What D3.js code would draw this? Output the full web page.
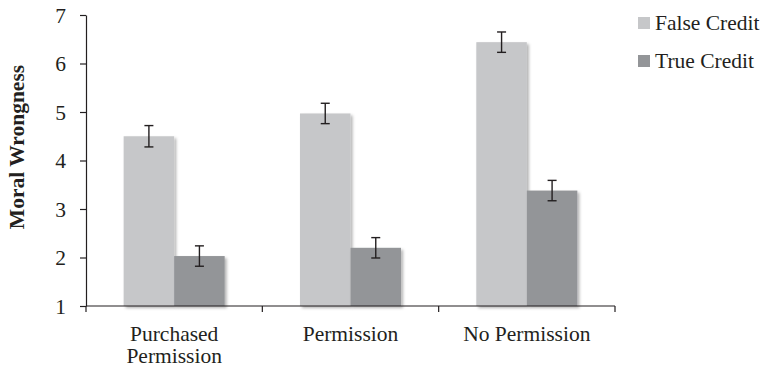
<!DOCTYPE html>
<html>
<head>
<meta charset="utf-8">
<script src="https://cdn.jsdelivr.net/npm/d3@7"></script>
<style>
  svg text, svg tspan { font-family: "Liberation Serif", "Times New Roman", Times, serif !important; }
</style>
</head>
<body style="margin:0">
<svg id="chart" width="762" height="370"></svg>
<script>
// Mean moral-wrongness ratings with standard errors
const categories = [["Purchased", "Permission"], ["Permission"], ["No Permission"]];
const seriesNames = ["False Credit", "True Credit"];
const falseCredit = [4.5, 4.97, 6.44];
const trueCredit = [2.03, 2.2, 3.38];
const falseErr = [0.22, 0.21, 0.21];
const trueErr = [0.21, 0.21, 0.21];
const yTicks = [1, 2, 3, 4, 5, 6, 7];
const colors = ["#c6c7c9", "#939598"];

const FONT = `"Liberation Serif"`;
const INK = "#231f20";
const svg = d3.select("#chart");
const plotLeft = 86, plotRight = 615, plotTop = 15, plotBottom = 306;
const padInner = 0.427;

// Apply the serif face to a text selection
const serif = sel => sel
  .attr("font-family", "Liberation Serif")
  .style("font-family", FONT, "important")
  .style("font-size", "21.5px")
  .style("fill", INK);

const catKeys = categories.map(c => c.join(" "));
const x = d3.scaleBand().domain(catKeys).range([plotLeft, plotRight])
  .paddingInner(padInner).paddingOuter(padInner / 2);
const xs = d3.scaleBand().domain(seriesNames).range([0, x.bandwidth()]);
const y = d3.scaleLinear().domain([1, 7]).range([plotBottom, plotTop]);

const defs = svg.append("defs");
const f = defs.append("filter").attr("id", "shadow")
  .attr("x", "-10%").attr("y", "-10%").attr("width", "130%").attr("height", "130%");
f.append("feDropShadow").attr("dx", 2).attr("dy", 2).attr("stdDeviation", 1.6)
  .attr("flood-color", "#000").attr("flood-opacity", 0.3);

const rows = catKeys.map((k, i) => ({
  key: k,
  vals: [
    { s: seriesNames[0], v: falseCredit[i], e: falseErr[i] },
    { s: seriesNames[1], v: trueCredit[i], e: trueErr[i] }
  ]
}));

const groups = svg.append("g").selectAll("g").data(rows).join("g")
  .attr("transform", d => `translate(${x(d.key)},0)`);

groups.selectAll("rect").data(d => d.vals).join("rect")
  .attr("x", d => xs(d.s))
  .attr("y", d => y(d.v))
  .attr("width", xs.bandwidth())
  .attr("height", d => y(1) - y(d.v))
  .attr("fill", (d, i) => colors[i])
  .attr("filter", "url(#shadow)");

// Error bars
const cx = d => xs(d.s) + xs.bandwidth() / 2;
const eb = groups.selectAll("g.err").data(d => d.vals).join("g").attr("class", "err")
  .attr("stroke", INK).attr("stroke-width", 1.4);
eb.append("line")
  .attr("x1", cx).attr("x2", cx)
  .attr("y1", d => y(d.v + d.e)).attr("y2", d => y(d.v - d.e));
[1, -1].forEach(sign => {
  eb.append("line")
    .attr("x1", d => cx(d) - 4.5).attr("x2", d => cx(d) + 4.5)
    .attr("y1", d => y(d.v + sign * d.e)).attr("y2", d => y(d.v + sign * d.e));
});

// Y axis
const yAxis = svg.append("g").attr("transform", `translate(${plotLeft},0)`)
  .call(d3.axisLeft(y).tickValues(yTicks).tickFormat(d3.format("d"))
    .tickSize(6).tickPadding(14).tickSizeOuter(0));
yAxis.attr("font-family", "Liberation Serif");
yAxis.select(".domain").attr("stroke", INK).attr("stroke-width", 1.2);
yAxis.selectAll(".tick line").attr("stroke", INK).attr("stroke-width", 1.2);
yAxis.selectAll("text").attr("dy", "0.34em").call(serif);

// X axis with ticks at category boundaries
const boundaries = [plotLeft].concat(catKeys.map(k => x(k) + x.bandwidth() + x.step() * padInner / 2));
const xAxisG = svg.append("g");
xAxisG.append("line").attr("x1", plotLeft).attr("x2", plotRight)
  .attr("y1", plotBottom).attr("y2", plotBottom)
  .attr("stroke", INK).attr("stroke-width", 1.2);
xAxisG.selectAll("line.tk").data(boundaries).join("line").attr("class", "tk")
  .attr("x1", d => d).attr("x2", d => d).attr("y1", plotBottom).attr("y2", plotBottom + 6)
  .attr("stroke", INK).attr("stroke-width", 1.2);

const catLabels = svg.append("g").selectAll("text").data(categories).join("text")
  .attr("x", (d, i) => x(catKeys[i]) + x.bandwidth() / 2)
  .attr("y", 341)
  .attr("text-anchor", "middle")
  .call(serif);
catLabels.selectAll("tspan").data(d => d).join("tspan")
  .attr("x", function () { return d3.select(this.parentNode).attr("x"); })
  .attr("dy", (d, i) => i === 0 ? 0 : 22)
  .text(d => d);

// Y axis title
svg.append("text")
  .attr("transform", "translate(24,147) rotate(-90)")
  .attr("text-anchor", "middle")
  .call(serif)
  .style("font-weight", "bold")
  .text("Moral Wrongness");

// Legend
const legend = svg.append("g").selectAll("g").data(seriesNames).join("g")
  .attr("transform", (d, i) => `translate(638,${17 + i * 38})`);
legend.append("rect").attr("width", 12).attr("height", 12).attr("fill", (d, i) => colors[i]);
legend.append("text").attr("x", 17).attr("y", 13)
  .call(serif)
  .text(d => d);
</script>
</body>
</html>
